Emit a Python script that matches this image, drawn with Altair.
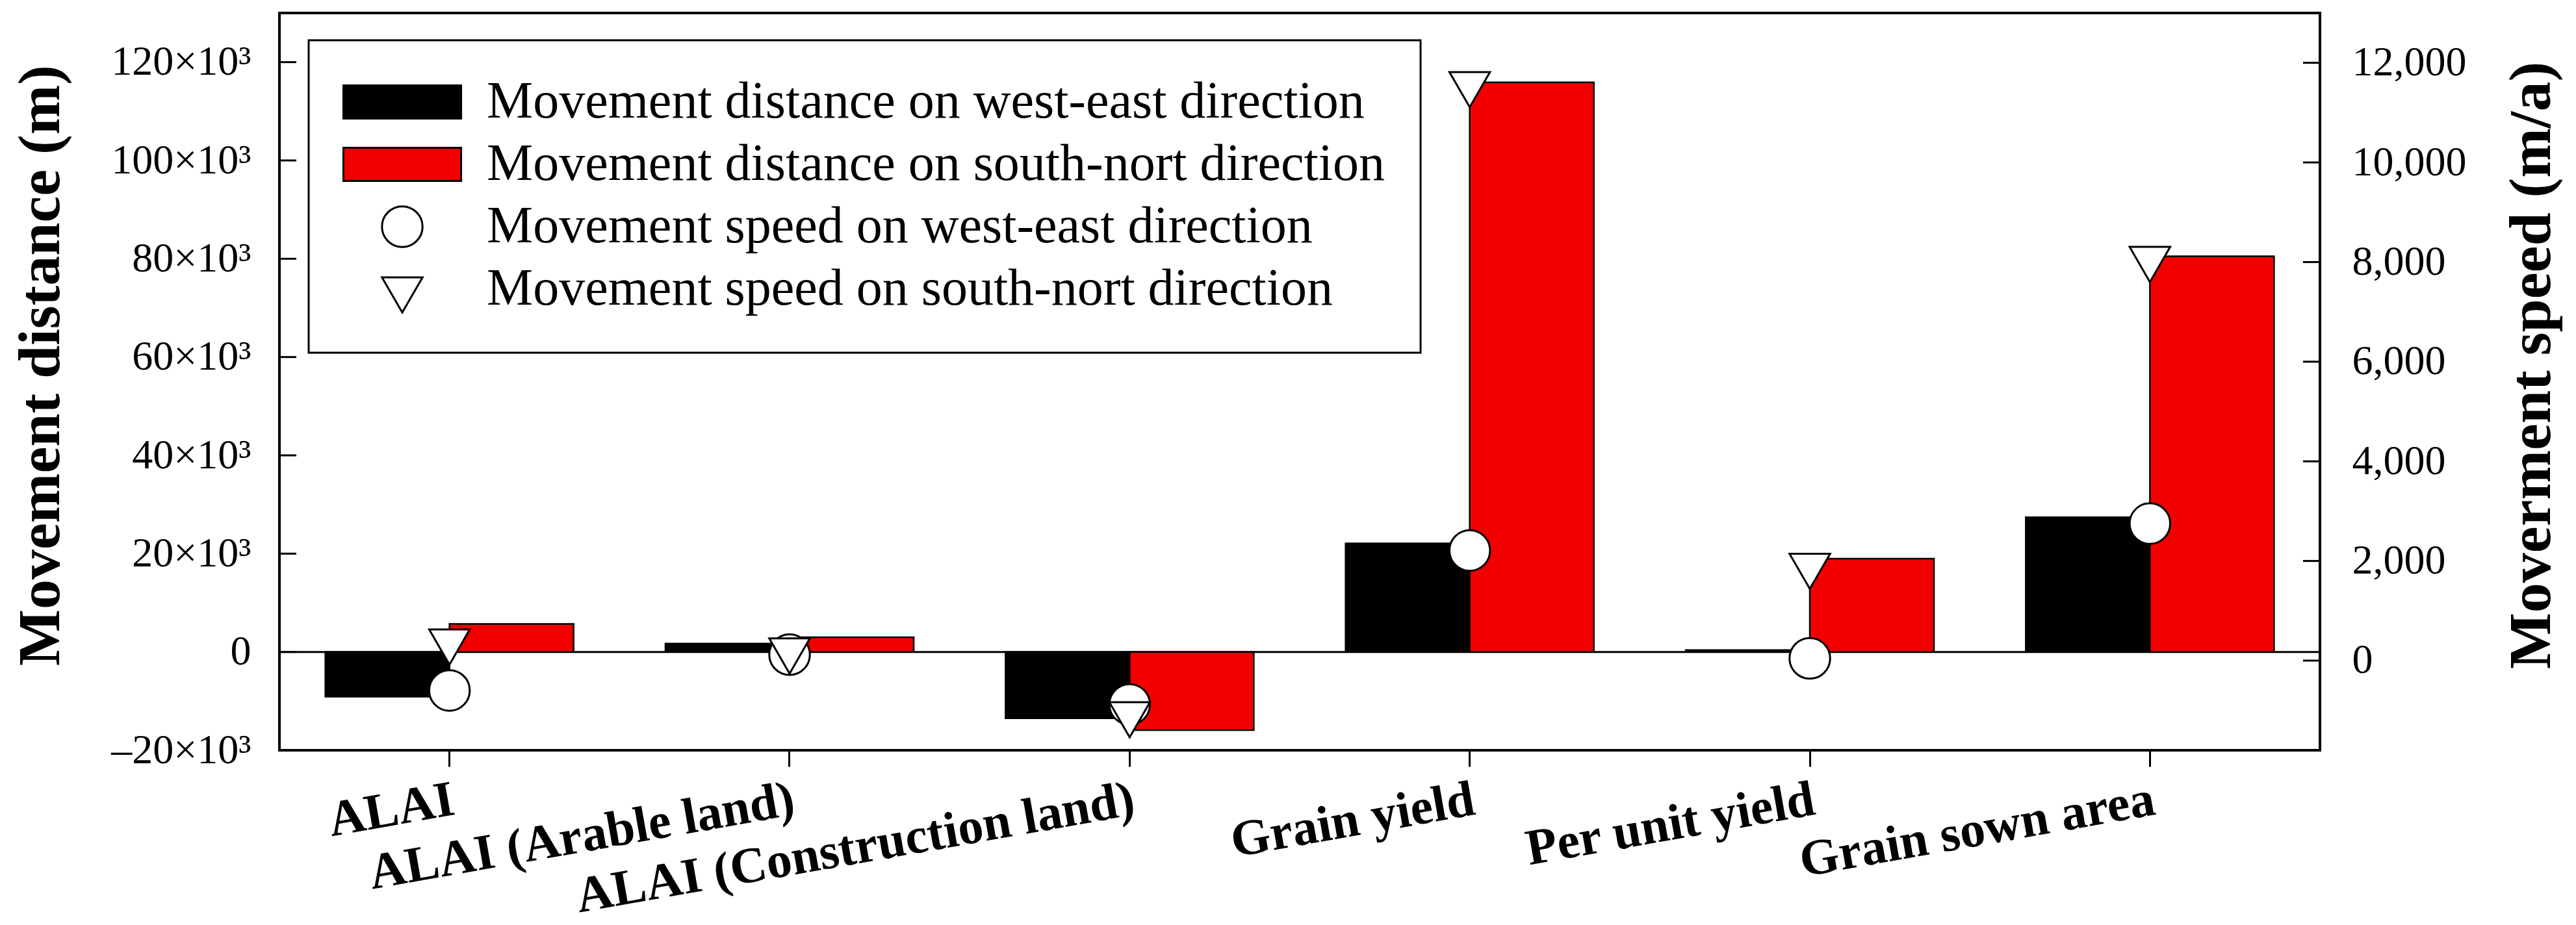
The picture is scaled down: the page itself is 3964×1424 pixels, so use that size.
import altair as alt
import pandas as pd

# ---------------- data ----------------
categories = ["ALAI", "ALAI (Arable land)", "ALAI (Construction land)",
              "Grain yield", "Per unit yield", "Grain sown area"]
dist_we = [-9100, 1700, -13500, 22100, 400, 27400]      # m
dist_sn = [5700, 3000, -15900, 115900, 19000, 80500]    # m
speed_we = [-600, 120, -880, 2210, 45, 2750]            # m/a
speed_sn = [390, 210, -1070, 11580, 1910, 8070]         # m/a

series = ["Movement distance on west-east direction",
          "Movement distance on south-nort direction",
          "Movement speed on west-east direction",
          "Movement speed on south-nort direction"]
fill_colors = ["#000000", "#f20000", "#ffffff", "#ffffff"]
stroke_colors = ["#000000", "#000000", "#000000", "#000000"]
rect_path = "M-2.9,-0.82L2.9,-0.82L2.9,0.82L-2.9,0.82Z"
tri_path = "M-1,-0.577L1,-0.577L0,1.155Z"
shapes = [rect_path, rect_path, "circle", tri_path]

left_ticks = [-20000, 0, 20000, 40000, 60000, 80000, 100000, 120000]
right_ticks = [0, 2000, 4000, 6000, 8000, 10000, 12000]
zero_line = [0]

W, H = 3140, 1135
FONT = "Liberation Serif"

dist_df = pd.DataFrame({"category": categories * 2,
                        "series": [series[0]] * 6 + [series[1]] * 6,
                        "value": dist_we + dist_sn})
speed_df = pd.DataFrame({"category": categories * 2,
                         "series": [series[2]] * 6 + [series[3]] * 6,
                         "speed": speed_we + speed_sn})

legend = alt.Legend(title=None, orient="none", legendX=45, legendY=42,
                    direction="vertical")

x_enc = alt.X("category:N", sort=categories,
              scale=alt.Scale(paddingInner=0.27, paddingOuter=0.135),
              axis=alt.Axis(title=None, labelAngle=350, labelAlign="right",
                            labelBaseline="top", labelFont=FONT,
                            labelFontWeight="bold", labelFontSize=78,
                            labelColor="black", tickSize=25, tickWidth=3,
                            tickColor="black", domain=False, labelPadding=12,
                            labelOverlap=False, labelBound=False,
                            labelLimit=3000))

yL_scale = alt.Scale(domain=[-20000, 130000], nice=False, zero=False)
yL_axis = alt.Axis(title="Movement distance (m)", values=left_ticks,
                   labelExpr="datum.value == 0 ? '0' : (datum.value < 0 ? '\u2013' : '') + format(abs(datum.value)/1000, 'd') + '\u00d710\u00b3'",
                   ticks=False, tickSize=0, domain=False, grid=False,
                   labelFont=FONT, labelFontSize=64, labelColor="black",
                   labelPadding=44, titleFont=FONT, titleFontSize=92,
                   titleFontWeight="bold", titleColor="black", titlePadding=121,
                   titleY=542, labelOverlap=False, labelLimit=3000)

yR_scale = alt.Scale(domain=[-1800, 13000], nice=False, zero=False)
yR_axis = alt.Axis(title="Moverment speed (m/a)", orient="right",
                   values=right_ticks, format=",d", ticks=False, tickSize=0,
                   domain=False, grid=False, labelFont=FONT, labelFontSize=64,
                   labelColor="black", labelPadding=49, titleFont=FONT,
                   titleFontSize=92, titleFontWeight="bold", titleColor="black",
                   titlePadding=80, titleAngle=270, titleBaseline="top",
                   titleY=542, labelOverlap=False, labelLimit=3000)

fill_enc = alt.Fill("series:N", scale=alt.Scale(domain=series, range=fill_colors),
                    legend=legend)
stroke_enc = alt.Stroke("series:N",
                        scale=alt.Scale(domain=series, range=stroke_colors),
                        legend=legend)

zero_rule = alt.Chart(pd.DataFrame({"v": zero_line})).mark_rule(
    color="black", strokeWidth=3).encode(
    y=alt.Y("v:Q", scale=yL_scale, axis=yL_axis))

bars = alt.Chart(dist_df).mark_bar(strokeWidth=2.5).encode(
    x=x_enc,
    xOffset=alt.XOffset("series:N", sort=series[:2],
                        scale=alt.Scale(paddingInner=0, paddingOuter=0)),
    y=alt.Y("value:Q", scale=yL_scale, axis=yL_axis),
    fill=fill_enc, stroke=stroke_enc)

lticks = alt.Chart(pd.DataFrame({"v": left_ticks})).mark_rule(
    color="black", strokeWidth=3).encode(
    y=alt.Y("v:Q", scale=yL_scale, axis=yL_axis),
    x=alt.value(0), x2=alt.value(26))

points = alt.Chart(speed_df).mark_point(
    filled=True, strokeWidth=3, size=3900, opacity=1).encode(
    x=x_enc,
    y=alt.Y("speed:Q", scale=yR_scale, axis=yR_axis),
    fill=fill_enc, stroke=stroke_enc,
    shape=alt.Shape("series:N", scale=alt.Scale(domain=series, range=shapes),
                    legend=legend))

rticks = alt.Chart(pd.DataFrame({"v": right_ticks})).mark_rule(
    color="black", strokeWidth=3).encode(
    y=alt.Y("v:Q", scale=yR_scale, axis=yR_axis),
    x=alt.value(W - 26), x2=alt.value(W))

left = alt.layer(zero_rule, bars, lticks)
right = alt.layer(points, rticks)

chart = alt.layer(left, right).resolve_scale(y="independent").properties(
    width=W, height=H,
    padding={"left": 8, "top": 12, "right": 5, "bottom": 2},
    background="white"
).configure_view(stroke="black", strokeWidth=4).configure_legend(
    labelFont=FONT, labelFontSize=80, labelColor="black", labelLimit=3000,
    symbolSize=3900, symbolStrokeColor="black", symbolStrokeWidth=3,
    symbolOpacity=1, padding=55, rowPadding=16, strokeColor="black",
    strokeWidth=3, fillColor="white", labelOffset=90, symbolOffset=49
)

chart.save("out.html", embed_options={"renderer": "svg", "actions": False})
